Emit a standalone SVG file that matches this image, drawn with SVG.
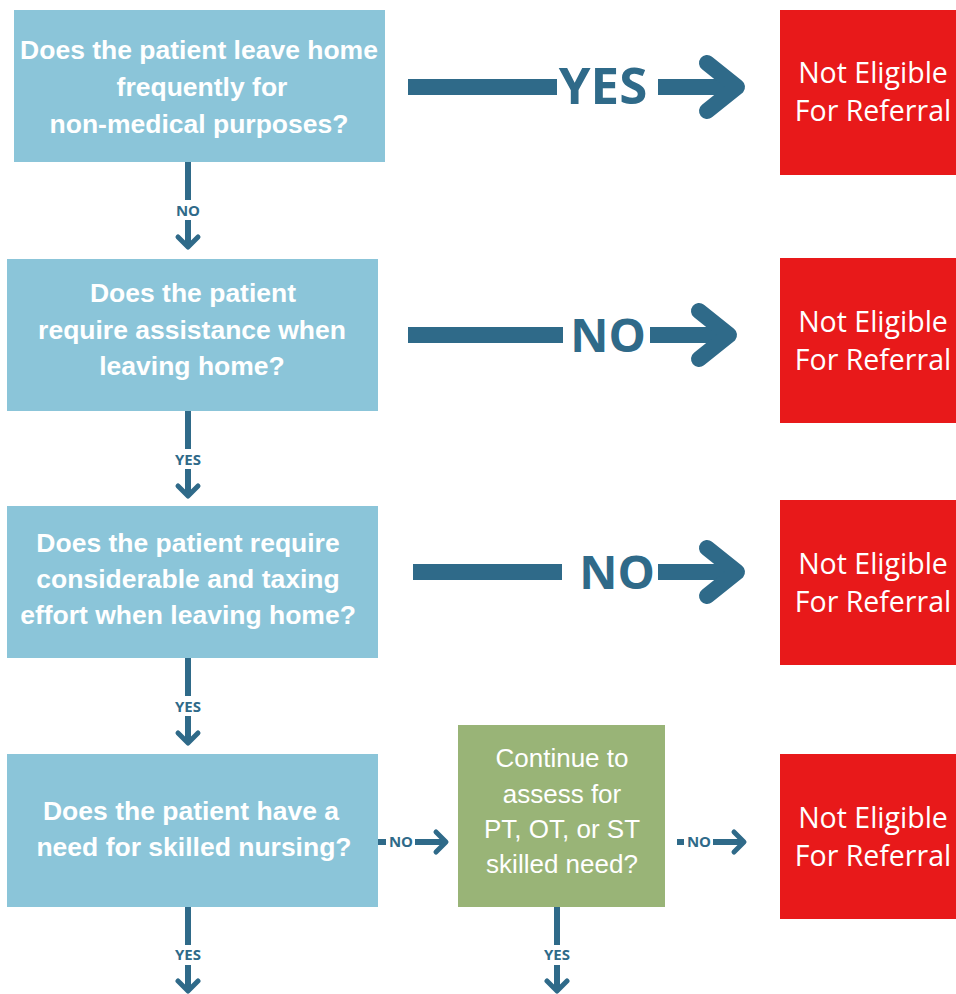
<svg xmlns="http://www.w3.org/2000/svg" width="956" height="994" viewBox="0 0 956 994">
<style>
.q{fill:#8BC5D9}
.red{fill:#E8191A}
.grn{fill:#99B477}
.qt{font-family:"Liberation Sans",Arial,sans-serif;font-weight:bold;font-size:26.5px;fill:#fff;text-anchor:middle}
.rt{font-family:"Open Sans","Noto Sans",sans-serif;font-size:28.5px;fill:#fff;text-anchor:middle}
.gt{font-family:"Liberation Sans",Arial,sans-serif;font-size:26px;fill:#fff;text-anchor:middle}
.big{font-family:"Open Sans","Noto Sans",sans-serif;font-weight:bold;font-size:47px;fill:#2F6A89;text-anchor:middle}
.sm{font-family:"Open Sans","Noto Sans",sans-serif;font-weight:bold;font-size:15px;fill:#2F6A89;text-anchor:middle}
.bl{stroke:#2F6A89;stroke-width:16;fill:none}
.bh{stroke:#2F6A89;stroke-width:16;fill:none;stroke-linecap:round;stroke-linejoin:round}
.sl{stroke:#2F6A89;stroke-width:6;fill:none}
.sh{stroke:#2F6A89;stroke-width:5;fill:none;stroke-linecap:round;stroke-linejoin:round}
</style>
<rect width="956" height="994" fill="#fff"/>
<g id="q1"><rect class="q" x="14" y="10" width="371" height="152"/>
<text class="qt" x="199" y="59">Does the patient leave home</text>
<text class="qt" x="202" y="96">frequently for</text>
<text class="qt" x="199" y="133">non-medical purposes?</text></g>
<g id="q2"><rect class="q" x="7" y="259" width="371" height="152"/>
<text class="qt" x="193" y="302">Does the patient</text>
<text class="qt" x="192" y="339">require assistance when</text>
<text class="qt" x="192" y="375">leaving home?</text></g>
<g id="q3"><rect class="q" x="7" y="506" width="371" height="152"/>
<text class="qt" x="188" y="552">Does the patient require</text>
<text class="qt" x="188" y="588">considerable and taxing</text>
<text class="qt" x="188" y="624">effort when leaving home?</text></g>
<g id="q4"><rect class="q" x="7" y="754" width="371" height="153"/>
<text class="qt" x="191" y="820">Does the patient have a</text>
<text class="qt" x="194" y="856">need for skilled nursing?</text></g>
<g id="g1"><rect class="grn" x="458" y="725" width="207" height="182"/>
<text class="gt" x="562" y="767">Continue to</text>
<text class="gt" x="562" y="803">assess for</text>
<text class="gt" x="562" y="838">PT, OT, or ST</text>
<text class="gt" x="562" y="873">skilled need?</text></g>
<g id="r1"><rect class="red" x="780" y="10" width="176" height="165"/>
<text class="rt" x="873" y="83">Not Eligible</text><text class="rt" x="873" y="121">For Referral</text></g>
<g id="r2"><rect class="red" x="780" y="258" width="176" height="165"/>
<text class="rt" x="873" y="332">Not Eligible</text><text class="rt" x="873" y="370">For Referral</text></g>
<g id="r3"><rect class="red" x="780" y="500" width="176" height="165"/>
<text class="rt" x="873" y="574">Not Eligible</text><text class="rt" x="873" y="612">For Referral</text></g>
<g id="r4"><rect class="red" x="780" y="754" width="176" height="165"/>
<text class="rt" x="873" y="828">Not Eligible</text><text class="rt" x="873" y="866">For Referral</text></g>
<g id="connectors">
<path class="bl" d="M408 87H557M658 87H735"/><path class="bh" d="M707 63L737 87L707 111"/>
<text class="big" x="603" y="104" style="font-size:51px">YES</text>
<path class="bl" d="M408 335H563M650 335H725"/><path class="bh" d="M699 311L729 335L699 359"/>
<text class="big" x="608" y="352">NO</text>
<path class="bl" d="M413 572H562M658 572H733"/><path class="bh" d="M707 548L737 572L707 596"/>
<text class="big" x="617" y="589">NO</text>
<path class="sl" d="M188 162V200M188 220V246"/><path class="sh" d="M178 237L188 247L198 237"/>
<text class="sm" x="188" y="216">NO</text>
<path class="sl" d="M188 411V449M188 469V495"/><path class="sh" d="M178 486L188 496L198 486"/>
<text class="sm" x="188" y="465">YES</text>
<path class="sl" d="M188 658V696M188 716V742"/><path class="sh" d="M178 733L188 743L198 733"/>
<text class="sm" x="188" y="712">YES</text>
<path class="sl" d="M188 907V945M188 965V990"/><path class="sh" d="M178 981L188 991L198 981"/>
<text class="sm" x="188" y="960">YES</text>
<path class="sl" d="M557 907V945M557 965V990"/><path class="sh" d="M547 981L557 991L567 981"/>
<text class="sm" x="557" y="960">YES</text>
<path class="sl" d="M378 842H386M415 842H444"/><path class="sh" d="M436 832L446 842L436 852"/>
<text class="sm" x="401" y="847">NO</text>
<path class="sl" d="M677 842H684M713 842H742"/><path class="sh" d="M734 832L744 842L734 852"/>
<text class="sm" x="699" y="847">NO</text>
</g>
</svg>
